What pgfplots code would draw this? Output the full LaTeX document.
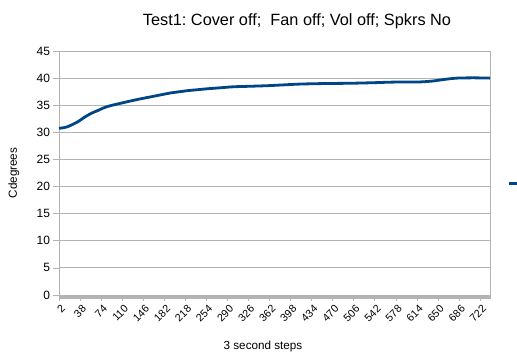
\documentclass[border=0pt]{standalone}
\usepackage{fontspec}
\setmainfont{Liberation Sans}
\usepackage{pgfplots}
\pgfplotsset{compat=1.18}
\definecolor{lineblue}{HTML}{004586}
\definecolor{gridgray}{HTML}{B3B3B3}
\begin{document}
\frenchspacing
\begin{tikzpicture}
\begin{axis}[
  scale only axis, width=431pt, height=244pt,
  xmin=2, xmax=739, ymin=0, ymax=45,
  xtick={2,38,...,722}, minor xtick={2,3,...,739},
  ytick={0,5,...,45},
  ymajorgrids, major grid style={gridgray, line width=0.8pt},
  axis line style={gridgray, line width=0.8pt},
  tick style={gridgray, line width=0.6pt},
  major tick length=5.5pt, minor tick length=4pt,
  tick align=outside, tick pos=left,
  /pgf/number format/assume math mode=true,
  yticklabel style={font=\fontsize{12}{14}\selectfont},
  xticklabel style={font=\fontsize{10.7}{12}\selectfont, rotate=45, anchor=east, inner sep=0pt, xshift=-1.5pt, yshift=-7.5pt},
  legend image code/.code={\draw[#1,line width=3pt] (0pt,0pt) -- (14pt,0pt);},
  legend style={at={(1.0394,0.458)}, anchor=west, draw=none, fill=none, inner sep=0pt, nodes={inner sep=0pt}},
]
\addplot[lineblue, line width=2.8pt, smooth, tension=0.5] coordinates {
(2,30.75)(10,30.85)(18,31.1)(26,31.5)(35,32.0)(43,32.6)(52,33.2)(60,33.65)(69,34.05)(77,34.45)(86,34.8)(97,35.1)(109,35.4)(123,35.75)(138,36.1)(152,36.4)(166,36.7)(180,37.0)(195,37.3)(209,37.5)(223,37.7)(238,37.85)(252,38.0)(276,38.2)(300,38.4)(330,38.5)(358,38.6)(386,38.75)(414,38.9)(457,39.0)(500,39.05)(539,39.15)(568,39.25)(597,39.3)(620,39.3)(640,39.45)(654,39.65)(668,39.85)(683,40.0)(710,40.05)(739,40.0)
};
\addlegendentry{}
\end{axis}
\node[font=\fontsize{16.3}{19}\selectfont, anchor=base] at (238pt,269pt) {Test1: Cover off;\ \ Fan off; Vol off; Spkrs No};
\node[font=\fontsize{11.7}{14}\selectfont, anchor=base] at (204pt,-54pt) {3 second steps};
\node[font=\fontsize{11.7}{14}\selectfont, anchor=base, rotate=90] at (-42pt,122pt) {Cdegrees};
\pgfresetboundingbox
\path[use as bounding box] (-59pt,-67pt) rectangle (458pt,295pt);
\end{tikzpicture}
\end{document}
